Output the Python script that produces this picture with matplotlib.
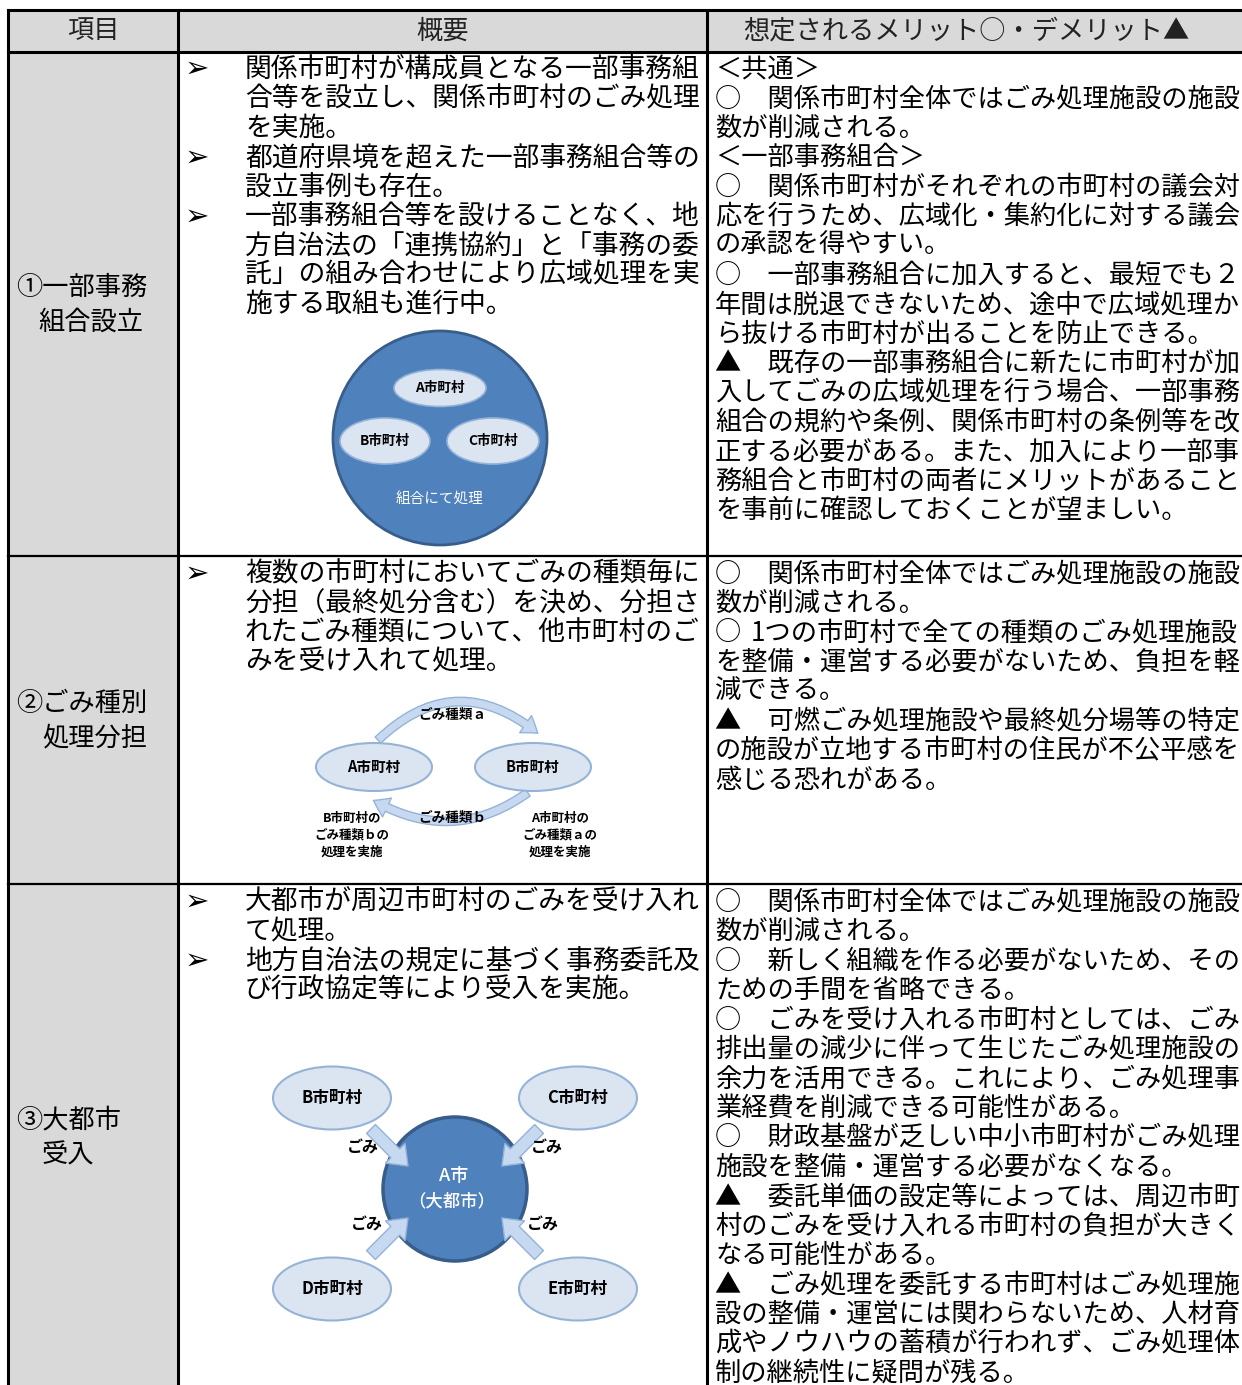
import matplotlib.pyplot as plt
from matplotlib.patches import Ellipse, Circle, FancyArrowPatch, Rectangle

plt.rcParams['font.family'] = ['Noto Sans CJK JP', 'DejaVu Sans']

# ---- table text ----
headers = ["項目", "概要", "想定されるメリット○・デメリット▲"]

labels = [
    ["①一部事務", "組合設立"],
    ["②ごみ種別", "処理分担"],
    ["③大都市", "受入"],
]

overview = [
    [["関係市町村が構成員となる一部事務組", "合等を設立し、関係市町村のごみ処理", "を実施。"],
     ["都道府県境を超えた一部事務組合等の", "設立事例も存在。"],
     ["一部事務組合等を設けることなく、地", "方自治法の「連携協約」と「事務の委",
      "託」の組み合わせにより広域処理を実", "施する取組も進行中。"]],
    [["複数の市町村においてごみの種類毎に", "分担（最終処分含む）を決め、分担さ",
      "れたごみ種類について、他市町村のご", "みを受け入れて処理。"]],
    [["大都市が周辺市町村のごみを受け入れ", "て処理。"],
     ["地方自治法の規定に基づく事務委託及", "び行政協定等により受入を実施。"]],
]

merits = [
    ["＜共通＞",
     "○　関係市町村全体ではごみ処理施設の施設",
     "数が削減される。",
     "＜一部事務組合＞",
     "○　関係市町村がそれぞれの市町村の議会対",
     "応を行うため、広域化・集約化に対する議会",
     "の承認を得やすい。",
     "○　一部事務組合に加入すると、最短でも２",
     "年間は脱退できないため、途中で広域処理か",
     "ら抜ける市町村が出ることを防止できる。",
     "▲　既存の一部事務組合に新たに市町村が加",
     "入してごみの広域処理を行う場合、一部事務",
     "組合の規約や条例、関係市町村の条例等を改",
     "正する必要がある。また、加入により一部事",
     "務組合と市町村の両者にメリットがあること",
     "を事前に確認しておくことが望ましい。"],
    ["○　関係市町村全体ではごみ処理施設の施設",
     "数が削減される。",
     "○ 1つの市町村で全ての種類のごみ処理施設",
     "を整備・運営する必要がないため、負担を軽",
     "減できる。",
     "▲　可燃ごみ処理施設や最終処分場等の特定",
     "の施設が立地する市町村の住民が不公平感を",
     "感じる恐れがある。"],
    ["○　関係市町村全体ではごみ処理施設の施設",
     "数が削減される。",
     "○　新しく組織を作る必要がないため、その",
     "ための手間を省略できる。",
     "○　ごみを受け入れる市町村としては、ごみ",
     "排出量の減少に伴って生じたごみ処理施設の",
     "余力を活用できる。これにより、ごみ処理事",
     "業経費を削減できる可能性がある。",
     "○　財政基盤が乏しい中小市町村がごみ処理",
     "施設を整備・運営する必要がなくなる。",
     "▲　委託単価の設定等によっては、周辺市町",
     "村のごみを受け入れる市町村の負担が大きく",
     "なる可能性がある。",
     "▲　ごみ処理を委託する市町村はごみ処理施",
     "設の整備・運営には関わらないため、人材育",
     "成やノウハウの蓄積が行われず、ごみ処理体",
     "制の継続性に疑問が残る。"],
]

# diagram labels
d1_towns = ["A市町村", "B市町村", "C市町村"]
d1_caption = "組合にて処理"
d2_towns = ["A市町村", "B市町村"]
d2_flows = ["ごみ種類ａ", "ごみ種類ｂ"]
d2_notes = [["B市町村の", "ごみ種類ｂの", "処理を実施"], ["A市町村の", "ごみ種類ａの", "処理を実施"]]
d3_center = ["A市", "（大都市）"]
d3_towns = ["B市町村", "C市町村", "D市町村", "E市町村"]
d3_flow = "ごみ"

# ---- layout (pixels) ----
W, H = 1242, 1385
col_x = [8, 178, 707, 1250]
row_y = [10, 52, 556, 884, 1400]
row_text_y0 = [69, 574, 902]
pitch = 29.45
fs = 18.9
fs_mid = 19.3
gray = '#d9d9d9'
light = '#dbe5f1'
light_edge = '#95b3d7'
arrow_fc = '#c6d9f1'
blue = '#4f81bd'
blue_edge = '#385d8a'

fig = plt.figure(figsize=(W / 100, H / 100), dpi=100)
ax = fig.add_axes([0, 0, 1, 1])
ax.set_xlim(0, W)
ax.set_ylim(H, 0)
ax.axis('off')

# backgrounds
ax.add_patch(Rectangle((col_x[0], row_y[0]), col_x[3] - col_x[0], row_y[1] - row_y[0],
                       fc=gray, ec='none', zorder=0))
ax.add_patch(Rectangle((col_x[0], row_y[1]), col_x[1] - col_x[0], row_y[4] - row_y[1],
                       fc=gray, ec='none', zorder=0))
# grid lines
for x in col_x[:3]:
    ax.plot([x, x], [row_y[0], H + 10], color='black', lw=2.2, zorder=5)
for i, y in enumerate(row_y[:4]):
    ax.plot([col_x[0], W + 10], [y, y], color='black', lw=2.2 if i < 2 else 1.6, zorder=5)

# header
hc = [(col_x[0] + col_x[1]) / 2, (col_x[1] + col_x[2]) / 2, 966]
for x, t in zip(hc, headers):
    ax.text(x, 31, t, fontsize=fs, ha='center', va='center', color='#222222')

label_x = [[16, 38], [16, 42], [16, 42]]
label_y = [[287, 322], [703, 738], [1120, 1155]]
for r in range(3):
    for t, x, y in zip(labels[r], label_x[r], label_y[r]):
        ax.text(x, y, t, fontsize=fs, ha='left', va='center')

    y = row_text_y0[r]
    for bullet in overview[r]:
        for k, line in enumerate(bullet):
            if k == 0:
                ax.text(185, y, "➢", fontsize=21, ha='left', va='center')
            ax.text(245, y, line, fontsize=fs_mid, ha='left', va='center')
            y += pitch

    y = row_text_y0[r]
    for line in merits[r]:
        if line.startswith("○ "):
            ax.text(715, y, line[0], fontsize=fs, ha='left', va='center')
            ax.text(751, y, line[2:], fontsize=fs, ha='left', va='center')
        else:
            ax.text(715, y, line, fontsize=fs, ha='left', va='center')
        y += pitch

small = dict(fontsize=9.8, fontweight='bold', ha='center', va='center')

# ---- diagram 1 ----
ax.add_patch(Circle((440, 438), 107, fc=blue, ec=blue_edge, lw=2, zorder=2))
for (cx, cy, w, h), t in zip([(440, 388, 92, 37), (385, 441, 90, 46), (493, 441, 92, 46)], d1_towns):
    ax.add_patch(Ellipse((cx, cy), w, h, fc=light, ec=light_edge, lw=1.2, zorder=3))
    ax.text(cx, cy, t, zorder=4, **small)
ax.text(440, 500, d1_caption, color='white', zorder=4, fontsize=10.5, ha='center', va='center')

# ---- diagram 2 ----
for (cx, cy), t in zip([(374, 767), (533, 767)], d2_towns):
    ax.add_patch(Ellipse((cx, cy), 116, 48, fc=light, ec=light_edge, lw=1.5, zorder=3))
    ax.text(cx, cy, t, zorder=4, fontsize=10.5, fontweight='bold', ha='center', va='center')
arc_style = 'simple,head_length=11,head_width=15,tail_width=6'
ax.add_patch(FancyArrowPatch((376, 742), (540, 735), connectionstyle='arc3,rad=-0.45',
                             arrowstyle=arc_style, fc=arrow_fc, ec=light_edge, lw=1, zorder=2))
ax.add_patch(FancyArrowPatch((530, 791), (371, 799), connectionstyle='arc3,rad=-0.33',
                             arrowstyle=arc_style, fc=arrow_fc, ec=light_edge, lw=1, zorder=2))
ax.text(452, 715, d2_flows[0], **small)
ax.text(452, 818, d2_flows[1], **small)
for nx, note in zip([352, 560], d2_notes):
    for k, t in enumerate(note):
        ax.text(nx, 818 + 17 * k, t, fontsize=9, fontweight='bold', ha='center', va='center')

# ---- diagram 3 ----
ax.add_patch(Circle((455, 1189), 72, fc=blue, ec=blue_edge, lw=2.5, zorder=2))
ax.text(454, 1176, d3_center[0], color='white', fontsize=13, fontweight='medium',
        ha='center', va='center', zorder=4)
ax.text(452, 1201, d3_center[1], color='white', fontsize=12.5, fontweight='medium',
        ha='center', va='center', zorder=4)
towns_xy = [(332, 1098), (578, 1098), (332, 1289), (578, 1289)]
arrows = [((369, 1127), (410, 1168)), ((541, 1127), (500, 1168)),
          ((369, 1257), (410, 1216)), ((541, 1257), (500, 1216))]
gomi_xy = [(363, 1148), (547, 1148), (367, 1225), (543, 1225)]
for (cx, cy), t, (p0, p1), (gx, gy) in zip(towns_xy, d3_towns, arrows, gomi_xy):
    ax.add_patch(Ellipse((cx, cy), 118, 63, fc=light, ec=light_edge, lw=1.5, zorder=3))
    ax.text(cx, cy, t, zorder=4, fontsize=12, fontweight='bold', ha='center', va='center')
    ax.add_patch(FancyArrowPatch(p0, p1, arrowstyle='simple,head_length=13,head_width=20,tail_width=9',
                                 fc=arrow_fc, ec=light_edge, lw=1, zorder=3))
    ax.text(gx, gy, d3_flow, fontsize=11.5, fontweight='bold', style='italic',
            ha='center', va='center')

fig.savefig('out.png', dpi=100)
